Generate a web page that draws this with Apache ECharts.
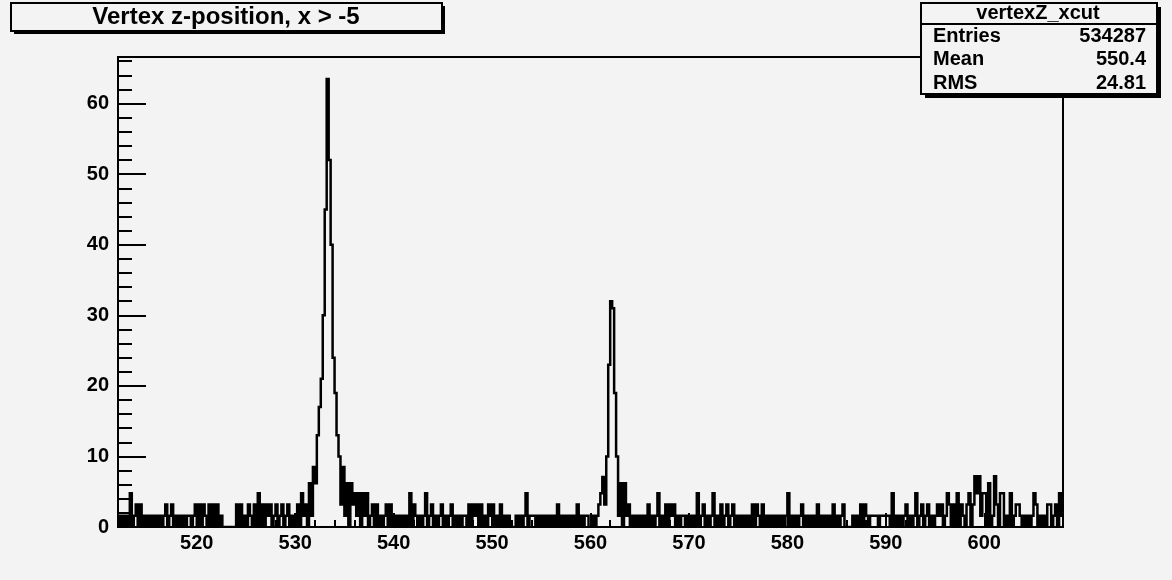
<!DOCTYPE html>
<html><head><meta charset="utf-8">
<script src="https://cdn.jsdelivr.net/npm/echarts@6/dist/echarts.min.js"></script>
<style>html,body{margin:0;padding:0;background:#f3f3f3}#c{width:1172px;height:580px}</style>
</head><body><div id="c"></div><script>
// Histogram bins: left edge = binStart + i*binWidth
const binStart = 512, binEnd = 608, binWidth = 0.2;
const b512 = [1.6,0,1.6,0,1.6,0,4.8,0,1.6,3.2, 0,3.2,0,1.6,0,1.6,0,1.6,0,1.6, 0,1.6,0,1.6,3.2,0,1.6,3.2,0,1.6, 0,1.6,0,1.6,0,1.6,1.6,0,1.6,3.2];
const b520 = [0,3.2,0,3.2,1.6,0,3.2,0,3.2,0, 3.2,0,1.6,0,0,0,0,0,0,0, 3.2,0,3.2,0,1.6,0,3.2,1.6,0,3.2, 0,4.8,0,3.2,0,3.2,1.6,3.2,0,1.6, 3.2,0,1.6,3.2,0,1.6,3.2,0,1.6,0];
const b530 = [0,3.2,0,4.8,1.6, 3.2,0,6.2,1.6,8.5, 6.2,13,17,21,30, 45,63.5,52,40,24, 19,13,10,3.2,8.5, 1.6,6.2,0,6.2,3.2, 4.8,1.6,4.8,0,4.8, 1.6,4.8,0,1.6,3.2, 0,3.2,0,1.6,0, 1.6,3.2,0,3.2,0];
const b540 = [1.6,0,1.6,0,1.6,0,1.6,0,4.8,0, 3.2,1.6,0,1.6,0,1.6,4.8,0,1.6,3.2, 0,1.6,0,1.6,3.2,0,1.6,0,1.6,3.2, 0,1.6,0,1.6,0,1.6,1.6,0,3.2,0, 3.2,1.6,3.2,0,3.2,0,1.6,0,3.2,1.6];
const b550 = [3.2,0,1.6,0,3.2,0,1.6,0,1.6,0, 0,0,1.6,0,1.6,0,1.6,4.8,0,1.6, 1.6,1.6,0,1.6,0,1.6,0,1.6,0,1.6, 0,1.6,0,3.2,0,1.6,0,1.6,0,1.6, 0,1.6,0,3.2,0,1.6,0,1.6,1.6,0];
const b560 = [0,1.6,0,1.6,3.2, 4.8,7.1,3.2,10,23, 32,31,19,10,1.6, 6.2,0,6.2,1.6,3.2, 0,1.6,0,1.6,0, 1.6,0,1.6,0,3.2, 0,1.6,0,1.6,4.8, 0,1.6,0,3.2,0, 3.2,1.6,3.2,0,1.6, 0,1.6,1.6,0,1.6];
const b570 = [1.6,0,1.6,0,4.8,0,1.6,3.2,0,1.6, 0,1.6,4.8,0,1.6,0,3.2,0,1.6,3.2, 0,1.6,3.2,0,1.6,0,1.6,0,1.6,0, 1.6,0,3.2,0,3.2,1.6,0,3.2,0,1.6, 0,1.6,0,1.6,0,1.6,0,1.6,0,1.6];
const b580 = [4.8,0,1.6,0,1.6,0,1.6,3.2,0,1.6, 0,1.6,0,1.6,0,3.2,0,1.6,0,1.6, 0,1.6,0,3.2,0,1.6,0,1.6,3.2,0, 0,0,0,1.6,0,1.6,0,3.2,0,3.2, 1.6,0,1.6,1.6,1.6,1.6,0,1.6,1.6,1.6];
const b590 = [1.6,1.6,0,4.8,0,1.6,0,1.6,0,1.6, 3.2,0,1.6,0,1.6,4.8,0,1.6,3.2,0, 1.6,3.2,0,1.6,0,1.6,3.2,1.6,3.2,0, 1.6,4.8,3.2,0,3.2,0,4.8,0,3.2,1.6, 0,3.2,4.8,0,3.2,7.2,4.8,7.2,1.6,4.8];
const b600 = [4.8,0,6.2,0,1.6,7.2,3.2,0,4.8,4.8, 0,1.6,0,4.8,0,1.6,3.2,3.2,1.6,0, 1.6,0,1.6,0,1.6,4.8,3.2,0,1.6,0, 1.6,0,3.2,3.2,0,1.6,3.2,0,4.8,1.6];

const xTicks = [520,530,540,550,560,570,580,590,600];
const xMinor = [514,516,518,522,524,526,528,532,534,536,538,542,544,546,548,552,554,556,558,562,564,566,568,572,574,576,578,582,584,586,588,592,594,596,598,602,604,606];
const yMax = 66.6;
const yTicks = [0,10,20,30,40,50,60];
const yMinor = [2,4,6,8,12,14,16,18,22,24,26,28,32,34,36,38,42,44,46,48,52,54,56,58,62,64,66];
const titleText = 'Vertex z-position, x > -5';
const statsName = 'vertexZ_xcut';
const statsLabels = ['Entries','Mean','RMS'];
const statsValues = ['534287','550.4','24.81'];

const counts = [].concat(b512,b520,b530,b540,b550,b560,b570,b580,b590,b600);
const binData = counts.map((v,i)=>[binStart + i*binWidth, v]);

const FONT = '"Liberation Sans", Arial, Helvetica, sans-serif';
const BG = '#f3f3f3';
const chart = echarts.init(document.getElementById('c'), null, {renderer:'canvas'});

const graphics = [
  {type:'rect', shape:{x:14,y:6,width:431,height:28}, style:{fill:'#000'}, z:100},
  {type:'rect', shape:{x:11,y:3,width:431,height:28}, style:{fill:BG, stroke:'#000', lineWidth:2}, z:101},
  {type:'text', x:226, y:17, style:{text:titleText, font:'bold 24px '+FONT, fill:'#000', align:'center', verticalAlign:'middle', textAlign:'center', textVerticalAlign:'middle'}, z:102},
  {type:'rect', shape:{x:925,y:7,width:236,height:91}, style:{fill:'#000'}, z:100},
  {type:'rect', shape:{x:921,y:3,width:236,height:91}, style:{fill:BG, stroke:'#000', lineWidth:2}, z:101},
  {type:'line', shape:{x1:921,y1:24,x2:1157,y2:24}, style:{stroke:'#000', lineWidth:2}, z:102},
  {type:'text', x:1038, y:13, style:{text:statsName, font:'bold 20px '+FONT, fill:'#000', align:'center', verticalAlign:'middle', textAlign:'center', textVerticalAlign:'middle'}, z:102}
];
statsLabels.forEach((lab,i)=>{
  const y = 36 + i*23.5;
  graphics.push({type:'text', x:933, y:y, style:{text:lab, font:'bold 20px '+FONT, fill:'#000', align:'left', verticalAlign:'middle', textAlign:'left', textVerticalAlign:'middle'}, z:102});
  graphics.push({type:'text', x:1146, y:y, style:{text:statsValues[i], font:'bold 20px '+FONT, fill:'#000', align:'right', verticalAlign:'middle', textAlign:'right', textVerticalAlign:'middle'}, z:102});
});

// histogram outline drawn as one stepped polyline through the axis scales
function renderHist(params, api){
  if (params.dataIndex !== 0) return null;
  const pts = [];
  binData.forEach(([lo, v])=>{
    pts.push(api.coord([lo, v]), api.coord([lo + binWidth, v]));
  });
  return {type:'polyline', shape:{points:pts}, silent:true,
          style:{stroke:'#000', fill:null, lineWidth:2.5, lineJoin:'miter', lineCap:'butt'}};
}

const lbl = {color:'#000', fontFamily:FONT, fontWeight:'bold', fontSize:20};
chart.setOption({
  backgroundColor: BG,
  animation:false,
  grid:{left:118, right:109, top:57, bottom:53, show:true, borderColor:'#000', borderWidth:2, backgroundColor:BG, containLabel:false},
  xAxis:[
    {type:'value', min:binStart, max:binEnd, position:'bottom',
     axisLine:{show:true, onZero:false, lineStyle:{color:'#000', width:2}},
     axisTick:{show:true, inside:true, length:14, lineStyle:{color:'#000', width:2}, customValues:xTicks},
     axisLabel:{...lbl, margin:6, customValues:xTicks},
     splitLine:{show:false}},
    {type:'value', min:binStart, max:binEnd, position:'bottom',
     axisLine:{show:false, onZero:false},
     axisTick:{show:true, inside:true, length:7, lineStyle:{color:'#000', width:2}, customValues:xMinor},
     axisLabel:{show:false},
     splitLine:{show:false}}
  ],
  yAxis:[
    {type:'value', min:0, max:yMax, position:'left',
     axisLine:{show:true, onZero:false, lineStyle:{color:'#000', width:2}},
     axisTick:{show:true, inside:true, length:28, lineStyle:{color:'#000', width:2}, customValues:yTicks},
     axisLabel:{...lbl, margin:9, customValues:yTicks},
     splitLine:{show:false}},
    {type:'value', min:0, max:yMax, position:'left',
     axisLine:{show:false, onZero:false},
     axisTick:{show:true, inside:true, length:14, lineStyle:{color:'#000', width:2}, customValues:yMinor},
     axisLabel:{show:false},
     splitLine:{show:false}}
  ],
  series:[{
    type:'custom', coordinateSystem:'cartesian2d', xAxisIndex:0, yAxisIndex:0,
    data:binData, encode:{x:0, y:1}, clip:true, renderItem:renderHist, z:3
  }],
  graphic: graphics
});
</script></body></html>
